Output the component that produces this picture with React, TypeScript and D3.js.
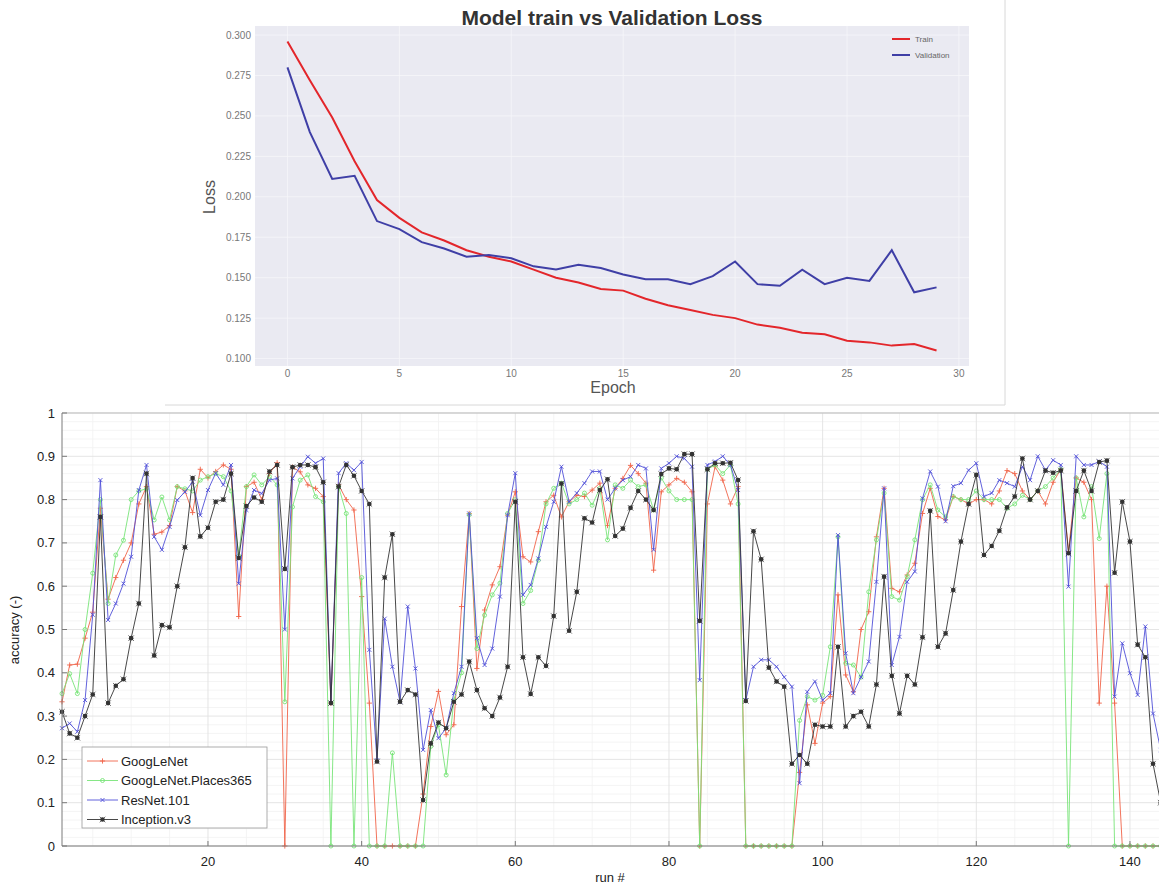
import React from 'react';
import * as d3 from 'd3';

// --- top chart data (loss per epoch) ---
const epochs = d3.range(0, 30);
const trainLoss = [0.296, 0.272, 0.249, 0.222, 0.198, 0.187, 0.178, 0.173, 0.167, 0.163, 0.160, 0.155, 0.150, 0.147, 0.143, 0.142, 0.137, 0.133, 0.130, 0.127, 0.125, 0.121, 0.119, 0.116, 0.115, 0.111, 0.110, 0.108, 0.109, 0.105];
const valLoss = [0.280, 0.240, 0.211, 0.213, 0.185, 0.180, 0.172, 0.168, 0.163, 0.164, 0.162, 0.157, 0.155, 0.158, 0.156, 0.152, 0.149, 0.149, 0.146, 0.151, 0.160, 0.146, 0.145, 0.155, 0.146, 0.150, 0.148, 0.167, 0.141, 0.144];
const lossTicksX = [0, 5, 10, 15, 20, 25, 30];
const lossTicksY = [0.100, 0.125, 0.150, 0.175, 0.200, 0.225, 0.250, 0.275, 0.300];

// --- bottom chart data (accuracy per run, runs 1..144) ---
const googLeNet = [
  0.333, 0.418, 0.42, 0.48, 0.54, 0.78, 0.57, 0.62, 0.66, 0.70, 0.79, 0.83, 0.72, 0.725, 0.74, 0.83, 0.82, 0.77, 0.87, 0.85,
  0.865, 0.88, 0.87, 0.53, 0.83, 0.84, 0.80, 0.86, 0.885, 0, 0.875, 0.864, 0.834, 0.826, 0.807, 0.33, 0.834, 0.80, 0.776, 0.576,
  0.33, 0, 0, 0, 0, 0, 0, 0.12, 0.276, 0.357, 0.257, 0.28, 0.553, 0.768, 0.41, 0.545, 0.603, 0.645, 0.764, 0.818,
  0.668, 0.656, 0.726, 0.795, 0.81, 0.76, 0.795, 0.81, 0.807, 0.822, 0.838, 0.74, 0.826, 0.849, 0.879, 0.86, 0.838, 0.637, 0.818, 0.834,
  0.849, 0.84, 0.818, 0, 0.79, 0.876, 0.845, 0.79, 0.83, 0, 0, 0, 0, 0, 0, 0, 0.17, 0.326, 0.237, 0.33,
  0.345, 0.58, 0.395, 0.356, 0.50, 0.541, 0.714, 0.826, 0.595, 0.587, 0.626, 0.653, 0.768, 0.826, 0.761, 0.753, 0.807, 0.80, 0.79, 0.80,
  0.80, 0.79, 0.82, 0.867, 0.86, 0.82, 0.80, 0.82, 0.79, 0.84, 0.87, 0.68, 0.85, 0.84, 0.80, 0.33, 0.60, 0.33, 0, 0,
  0, 0, 0, 0
];
const places365 = [
  0.352, 0.398, 0.352, 0.50, 0.63, 0.80, 0.56, 0.672, 0.706, 0.80, 0.82, 0.825, 0.753, 0.806, 0.753, 0.83, 0.825, 0.82, 0.845, 0.853,
  0.86, 0.853, 0.82, 0.67, 0.83, 0.857, 0.834, 0.853, 0.834, 0.333, 0.783, 0.845, 0.857, 0.807, 0.795, 0, 0.83, 0.768, 0, 0.62,
  0, 0, 0, 0.215, 0, 0, 0, 0, 0.23, 0.28, 0.164, 0.337, 0.40, 0.765, 0.456, 0.533, 0.58, 0.607, 0.768, 0.80,
  0.56, 0.59, 0.66, 0.79, 0.826, 0.838, 0.79, 0.80, 0.815, 0.787, 0.826, 0.707, 0.834, 0.826, 0.845, 0.83, 0.834, 0.776, 0.85, 0.82,
  0.80, 0.80, 0.80, 0, 0.87, 0.88, 0.86, 0.88, 0.79, 0, 0, 0, 0, 0, 0, 0, 0.29, 0.345, 0.337, 0.348,
  0.46, 0.714, 0.422, 0.418, 0.39, 0.587, 0.707, 0.815, 0.576, 0.568, 0.622, 0.707, 0.80, 0.834, 0.776, 0.76, 0.807, 0.80, 0.80, 0.82,
  0.80, 0.80, 0.80, 0.78, 0.79, 0.81, 0.80, 0.82, 0.83, 0.85, 0.87, 0, 0.85, 0.76, 0.83, 0.71, 0.86, 0, 0, 0,
  0, 0, 0, 0
];
const resNet101 = [
  0.272, 0.283, 0.264, 0.337, 0.534, 0.845, 0.522, 0.56, 0.606, 0.668, 0.822, 0.88, 0.714, 0.684, 0.737, 0.799, 0.818, 0.841, 0.764, 0.822,
  0.861, 0.834, 0.88, 0.606, 0.776, 0.822, 0.814, 0.845, 0.849, 0.50, 0.849, 0.876, 0.899, 0.884, 0.895, 0.33, 0.861, 0.884, 0.868, 0.887,
  0.453, 0.198, 0.525, 0.414, 0.333, 0.553, 0.41, 0.222, 0.314, 0.249, 0.272, 0.353, 0.414, 0.768, 0.48, 0.418, 0.456, 0.576, 0.764, 0.861,
  0.58, 0.603, 0.664, 0.737, 0.795, 0.876, 0.795, 0.815, 0.838, 0.865, 0.865, 0.80, 0.826, 0.845, 0.853, 0.88, 0.872, 0.684, 0.872, 0.884,
  0.90, 0.895, 0.876, 0.383, 0.88, 0.888, 0.90, 0.88, 0.822, 0.337, 0.414, 0.43, 0.43, 0.414, 0.39, 0.368, 0.145, 0.356, 0.38, 0.337,
  0.353, 0.718, 0.445, 0.353, 0.39, 0.426, 0.61, 0.826, 0.418, 0.483, 0.61, 0.634, 0.803, 0.865, 0.83, 0.75, 0.831, 0.838, 0.868, 0.884,
  0.807, 0.815, 0.845, 0.838, 0.83, 0.876, 0.845, 0.90, 0.868, 0.891, 0.88, 0.599, 0.90, 0.88, 0.88, 0.888, 0.876, 0.345, 0.468, 0.399,
  0.349, 0.507, 0.306, 0.222
];
const inceptionV3 = [
  0.31, 0.26, 0.25, 0.30, 0.35, 0.76, 0.33, 0.37, 0.385, 0.48, 0.56, 0.86, 0.44, 0.51, 0.505, 0.60, 0.69, 0.85, 0.715, 0.735,
  0.795, 0.80, 0.86, 0.665, 0.785, 0.805, 0.795, 0.865, 0.88, 0.64, 0.875, 0.88, 0.88, 0.875, 0.84, 0.33, 0.83, 0.88, 0.855, 0.82,
  0.79, 0.195, 0.62, 0.72, 0.333, 0.36, 0.35, 0.106, 0.237, 0.285, 0.272, 0.333, 0.35, 0.426, 0.36, 0.318, 0.30, 0.343, 0.414, 0.795,
  0.436, 0.351, 0.436, 0.416, 0.531, 0.837, 0.497, 0.587, 0.757, 0.747, 0.822, 0.847, 0.716, 0.733, 0.781, 0.82, 0.80, 0.776, 0.859, 0.872,
  0.87, 0.905, 0.905, 0.52, 0.87, 0.884, 0.884, 0.885, 0.845, 0.335, 0.727, 0.662, 0.412, 0.38, 0.368, 0.19, 0.21, 0.19, 0.28, 0.276,
  0.276, 0.46, 0.276, 0.30, 0.31, 0.276, 0.373, 0.622, 0.393, 0.306, 0.393, 0.373, 0.482, 0.774, 0.46, 0.491, 0.591, 0.703, 0.79, 0.857,
  0.672, 0.693, 0.728, 0.782, 0.807, 0.895, 0.80, 0.82, 0.867, 0.862, 0.867, 0.676, 0.82, 0.867, 0.82, 0.887, 0.89, 0.631, 0.795, 0.703,
  0.465, 0.436, 0.19, 0.10
];
const runs = d3.range(1, 145);
const runTicks = [20, 40, 60, 80, 100, 120, 140];
const accTicks = [0, 0.1, 0.2, 0.3, 0.4, 0.5, 0.6, 0.7, 0.8, 0.9, 1];
const accTickLabels = ['0', '0.1', '0.2', '0.3', '0.4', '0.5', '0.6', '0.7', '0.8', '0.9', '1'];

const series = [
  { name: 'GoogLeNet', values: googLeNet, color: '#f0644a', marker: 'plus' },
  { name: 'GoogLeNet.Places365', values: places365, color: '#78e478', marker: 'circle' },
  { name: 'ResNet.101', values: resNet101, color: '#5050d8', marker: 'cross' },
  { name: 'Inception.v3', values: inceptionV3, color: '#333333', marker: 'star' },
];

const SANS = '"Liberation Sans", Arial, sans-serif';

// --- marker shapes ---
const Marker = ({ kind, x, y, color }) => {
  const s = 2.6;
  if (kind === 'plus') {
    return <path d={`M${x - s},${y}H${x + s}M${x},${y - s}V${y + s}`} stroke={color} strokeWidth={0.9} />;
  }
  if (kind === 'circle') {
    return <circle cx={x} cy={y} r={2} fill="none" stroke={color} strokeWidth={0.9} />;
  }
  if (kind === 'cross') {
    return <path d={`M${x - 2},${y - 2}L${x + 2},${y + 2}M${x - 2},${y + 2}L${x + 2},${y - 2}`} stroke={color} strokeWidth={0.9} />;
  }
  // asterisk-ish dark blob
  return (
    <g>
      <circle cx={x} cy={y} r={2.3} fill={color} />
      <path d={`M${x - 2.8},${y - 2.8}L${x + 2.8},${y + 2.8}M${x - 2.8},${y + 2.8}L${x + 2.8},${y - 2.8}`} stroke={color} strokeWidth={0.7} />
    </g>
  );
};

// --- Loss chart (seaborn look) ---
const LossChart = () => {
  const x = d3.scaleLinear().domain([-1.45, 30.45]).range([255, 969]);
  const y = d3.scaleLinear().domain([0.0954, 0.3056]).range([366, 26]);
  const line = d3.line<number>().x((_, i) => x(epochs[i])).y(d => y(d));

  return (
    <g>
      <line x1={165} y1={405} x2={1005} y2={405} stroke="#d8d8d8" />
      <line x1={1005} y1={0} x2={1005} y2={405} stroke="#d8d8d8" />
      <rect x={255} y={26} width={714} height={340} fill="#eaeaf2" />
      {lossTicksX.map(t => (
        <line key={'gx' + t} x1={x(t)} x2={x(t)} y1={26} y2={366} stroke="#f6f6fa" strokeWidth={0.8} />
      ))}
      {lossTicksY.map(t => (
        <line key={'gy' + t} x1={255} x2={969} y1={y(t)} y2={y(t)} stroke="#f6f6fa" strokeWidth={0.8} />
      ))}
      <path d={line(trainLoss) || ''} fill="none" stroke="#e3262b" strokeWidth={2} />
      <path d={line(valLoss) || ''} fill="none" stroke="#3f3fa6" strokeWidth={2} />
      {lossTicksX.map(t => (
        <text key={'tx' + t} x={x(t)} y={377} fontSize={10} fill="#777" textAnchor="middle" fontFamily={SANS}>{t}</text>
      ))}
      {lossTicksY.map(t => (
        <text key={'ty' + t} x={251} y={y(t) + 3.5} fontSize={10} fill="#777" textAnchor="end" fontFamily={SANS}>{t.toFixed(3)}</text>
      ))}
      <text x={612} y={25} fontSize={21} fontWeight="bold" fill="#333" textAnchor="middle" fontFamily={SANS}>Model train vs Validation Loss</text>
      <text x={613} y={393} fontSize={16} fill="#555" textAnchor="middle" fontFamily={SANS}>Epoch</text>
      <text transform="translate(215,197) rotate(-90)" fontSize={16} fill="#555" textAnchor="middle" fontFamily={SANS}>Loss</text>
      <line x1={892} x2={910} y1={39} y2={39} stroke="#e3262b" strokeWidth={2} />
      <text x={915} y={42} fontSize={8} fill="#666" fontFamily={SANS}>Train</text>
      <line x1={892} x2={910} y1={55} y2={55} stroke="#3f3fa6" strokeWidth={2} />
      <text x={915} y={58} fontSize={8} fill="#666" fontFamily={SANS}>Validation</text>
    </g>
  );
};

// --- Accuracy chart (MATLAB look) ---
const AccuracyChart = () => {
  const x = d3.scaleLinear().domain([1, 144]).range([62, 1160.7]);
  const y = d3.scaleLinear().domain([0, 1]).range([846, 413]);
  const line = d3.line<number>().x((_, i) => x(runs[i])).y(d => y(d));
  const minorX = d3.range(5, 145, 5).filter(v => v % 20 !== 0);
  const minorY = d3.range(0.02, 1, 0.02).filter(v => Math.abs(v * 10 - Math.round(v * 10)) > 0.01);

  return (
    <g>
      <defs>
        <clipPath id="accClip">
          <rect x={58} y={408} width={1110} height={444} />
        </clipPath>
      </defs>
      <rect x={62} y={413} width={1100} height={433} fill="#ffffff" />
      {minorX.map(t => (
        <line key={'mx' + t} x1={x(t)} x2={x(t)} y1={413} y2={846} stroke="#f1f1f1" strokeWidth={0.8} />
      ))}
      {minorY.map(t => (
        <line key={'my' + t} x1={62} x2={1159} y1={y(t)} y2={y(t)} stroke="#f1f1f1" strokeWidth={0.8} />
      ))}
      {runTicks.map(t => (
        <line key={'gx' + t} x1={x(t)} x2={x(t)} y1={413} y2={846} stroke="#e2e2e2" strokeWidth={0.9} />
      ))}
      {accTicks.map(t => (
        <line key={'gy' + t} x1={62} x2={1159} y1={y(t)} y2={y(t)} stroke="#e2e2e2" strokeWidth={0.9} />
      ))}
      <g clipPath="url(#accClip)">
        {series.map(s => (
          <g key={s.name}>
            <path d={line(s.values) || ''} fill="none" stroke={s.color} strokeWidth={0.9} />
            {s.values.map((v, i) => (
              <Marker key={i} kind={s.marker} x={x(runs[i])} y={y(v)} color={s.color} />
            ))}
          </g>
        ))}
      </g>
      <line x1={62} x2={1159} y1={413} y2={413} stroke="#bdbdbd" />
      <line x1={62} x2={1159} y1={846} y2={846} stroke="#7a7a7a" />
      <line x1={62} x2={62} y1={413} y2={846} stroke="#7a7a7a" />
      {runTicks.map(t => (
        <g key={'tx' + t}>
          <line x1={x(t)} x2={x(t)} y1={846} y2={841} stroke="#7a7a7a" />
          <text x={x(t)} y={866} fontSize={13} fill="#222" textAnchor="middle" fontFamily={SANS}>{t}</text>
        </g>
      ))}
      {accTicks.map((t, i) => (
        <g key={'ty' + t}>
          <line x1={62} x2={67} y1={y(t)} y2={y(t)} stroke="#7a7a7a" />
          <text x={55} y={y(t) + 4.5} fontSize={13} fill="#222" textAnchor="end" fontFamily={SANS}>{accTickLabels[i]}</text>
        </g>
      ))}
      <text x={610} y={882} fontSize={13} fill="#222" textAnchor="middle" fontFamily={SANS}>run #</text>
      <text transform="translate(19,630) rotate(-90)" fontSize={13} fill="#222" textAnchor="middle" fontFamily={SANS}>accuracy (-)</text>

      <rect x={82} y={747} width={185} height={81} fill="#ffffff" stroke="#9a9a9a" strokeWidth={0.8} />
      {series.map((s, i) => {
        const ly = 761 + i * 19.5;
        return (
          <g key={'lg' + s.name}>
            <line x1={87} x2={118} y1={ly} y2={ly} stroke={s.color} strokeWidth={0.9} />
            <Marker kind={s.marker} x={102.5} y={ly} color={s.color} />
            <text x={121} y={ly + 4.5} fontSize={13} fill="#222" fontFamily={SANS}>{s.name}</text>
          </g>
        );
      })}
    </g>
  );
};

export default function App() {
  return (
    <svg
      width={1159}
      height={885}
      style={{ position: 'absolute', left: 0, top: 0, background: '#ffffff' }}
    >
      <rect x={0} y={0} width={1159} height={885} fill="#ffffff" />
      <LossChart />
      <AccuracyChart />
    </svg>
  );
}
